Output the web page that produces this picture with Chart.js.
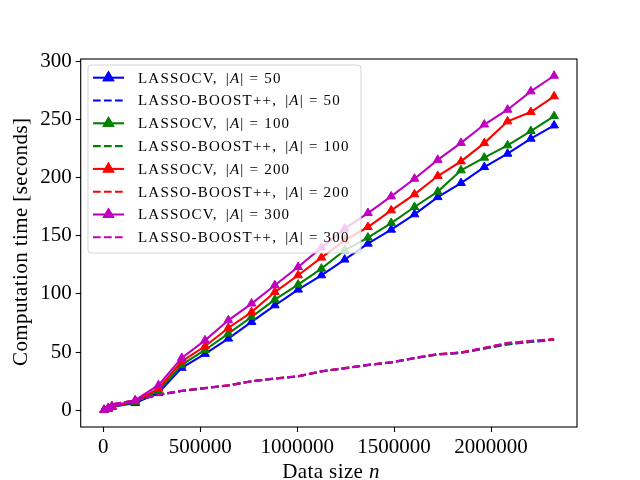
<!DOCTYPE html>
<html>
<head>
<meta charset="utf-8">
<title>Computation time</title>
<script src="https://cdn.jsdelivr.net/npm/chart.js@4.4.1/dist/chart.umd.min.js"></script>
<style>
	html, body { margin: 0; padding: 0; background: #fff; }
	#wrap { width: 640px; height: 480px; }
</style>
</head>
<body>
<div id="wrap"><canvas id="chart-canvas" width="640" height="480"></canvas></div>
<script>
'use strict';

var DATA_SIZES = [5000, 25000, 45000, 165000, 285000, 405000, 525000, 645000, 765000, 885000, 1005000,
	1125000, 1245000, 1365000, 1485000, 1605000, 1725000, 1845000, 1965000, 2085000, 2205000, 2325000];

var CV_50  = [0.2, 1.2, 2.8, 6.2, 14.9, 36.5, 48.5, 61.6, 75.9, 90.2, 103.7, 116.0, 129.5, 143.2, 155.2, 168.4, 183.2, 195.3, 209.0, 220.5, 233.4, 244.8];
var CV_100 = [0.3, 1.4, 3.0, 7.0, 16.6, 39.0, 51.8, 65.9, 80.2, 95.1, 108.0, 121.7, 137.5, 148.4, 160.9, 174.7, 187.9, 206.2, 217.1, 227.7, 240.0, 252.8];
var CV_200 = [0.3, 1.5, 3.2, 7.8, 18.6, 42.0, 55.0, 70.7, 84.4, 101.6, 116.0, 131.2, 146.0, 157.5, 171.8, 185.6, 201.3, 213.9, 229.6, 248.3, 256.3, 269.8];
var CV_300 = [0.4, 1.7, 3.5, 8.6, 21.5, 45.0, 60.1, 77.3, 91.7, 107.4, 123.1, 139.8, 156.1, 169.5, 183.8, 199.0, 215.2, 229.8, 245.6, 258.3, 274.1, 287.5];

var BOOST_50  = [0.4, 2.8, 4.8, 8.3, 13.2, 16.5, 18.9, 21.2, 24.8, 27.1, 29.0, 33.3, 36.0, 38.8, 41.0, 44.7, 47.9, 49.3, 52.9, 56.6, 58.6, 60.6];
var BOOST_100 = [0.5, 2.9, 4.9, 8.4, 13.3, 16.6, 19.0, 21.3, 24.9, 27.2, 29.1, 33.4, 36.1, 38.9, 41.1, 44.8, 48.0, 49.5, 53.2, 57.0, 58.9, 60.8];
var BOOST_200 = [0.5, 3.0, 5.0, 8.5, 13.4, 16.7, 19.1, 21.4, 25.0, 27.3, 29.2, 33.5, 36.2, 39.0, 41.2, 44.9, 48.2, 49.7, 53.6, 57.9, 59.6, 61.1];
var BOOST_300 = [0.5, 3.0, 5.0, 8.6, 13.5, 16.8, 19.2, 21.5, 25.0, 27.4, 29.3, 33.6, 36.3, 39.0, 41.3, 45.0, 48.3, 49.6, 53.5, 57.6, 59.4, 61.0];

var SET_SIZES = [50, 100, 200, 300];
var COLORS    = ['#0000ff', '#008000', '#ff0000', '#bf00bf'];

var X_TICKS = [0, 500000, 1000000, 1500000, 2000000];
var Y_TICKS = [0, 50, 100, 150, 200, 250, 300];

var FONT = "'Liberation Serif', 'DejaVu Serif', serif";
var LINE_W = 2.08;
var DASH = [7.7, 3.3];

function points(values) {
	return values.map(function(v, i) {
		return { x: DATA_SIZES[i], y: v };
	});
}

var cvSeries    = [CV_50, CV_100, CV_200, CV_300];
var boostSeries = [BOOST_50, BOOST_100, BOOST_200, BOOST_300];

var datasets = [];
SET_SIZES.forEach(function(size, i) {
	datasets.push({
		label: 'LASSOCV, |A| = ' + size,
		kind: 'cv',
		setSize: size,
		data: points(cvSeries[i]),
		borderColor: COLORS[i],
		backgroundColor: COLORS[i],
		borderWidth: LINE_W,
		pointStyle: 'triangle',
		pointRadius: 5,
		pointBorderWidth: 1,
		pointBackgroundColor: COLORS[i],
		pointBorderColor: COLORS[i],
		tension: 0
	});
	datasets.push({
		label: 'LASSO-BOOST++, |A| = ' + size,
		kind: 'boost',
		setSize: size,
		data: points(boostSeries[i]),
		borderColor: COLORS[i],
		backgroundColor: COLORS[i],
		borderWidth: LINE_W,
		borderDash: DASH,
		pointRadius: 0,
		tension: 0
	});
});
// matplotlib draws later series on top
datasets.forEach(function(ds, i) { ds.order = datasets.length - i; });

// draws a list of [text, italic, gapAfter] runs starting at x
function drawRuns(ctx, runs, x, y, size, spacing) {
	ctx.letterSpacing = (spacing || 0) + 'px';
	runs.forEach(function(run) {
		ctx.font = (run[1] ? 'italic ' : '') + size + 'px ' + FONT;
		ctx.fillText(run[0], x, y);
		x += ctx.measureText(run[0]).width + (run[2] || 0);
	});
	ctx.letterSpacing = '0px';
	return x;
}

function runsWidth(ctx, runs, size) {
	var w = 0;
	runs.forEach(function(run) {
		ctx.font = (run[1] ? 'italic ' : '') + size + 'px ' + FONT;
		w += ctx.measureText(run[0]).width + (run[2] || 0);
	});
	return w;
}

var framePlugin = {
	id: 'frame',
	afterDatasetsDraw: function(chart) {
		var a = chart.chartArea, ctx = chart.ctx;
		ctx.save();
		ctx.strokeStyle = '#000';
		ctx.lineWidth = 1.1;
		ctx.strokeRect(a.left, a.top, a.right - a.left, a.bottom - a.top);
		ctx.restore();
	}
};

var legendPlugin = {
	id: 'innerLegend',
	afterDatasetsDraw: function(chart) {
		var ctx = chart.ctx;
		var box = { x: 88, y: 65, w: 273, h: 188 };
		var rowTop = 77.7, rowStep = 22.8, size = 15;

		ctx.save();
		ctx.beginPath();
		ctx.roundRect(box.x, box.y, box.w, box.h, 3);
		ctx.fillStyle = 'rgba(255,255,255,0.8)';
		ctx.fill();
		ctx.strokeStyle = 'rgba(204,204,204,0.8)';
		ctx.lineWidth = 1;
		ctx.stroke();

		chart.data.datasets.forEach(function(ds, i) {
			var y = rowTop + i * rowStep;
			ctx.strokeStyle = ds.borderColor;
			ctx.lineWidth = LINE_W;
			ctx.setLineDash(ds.kind === 'boost' ? DASH : []);
			ctx.beginPath();
			ctx.moveTo(93, y);
			ctx.lineTo(124, y);
			ctx.stroke();
			ctx.setLineDash([]);
			if (ds.kind === 'cv') {
				Chart.helpers.drawPoint(ctx, {
					pointStyle: 'triangle', radius: 5, borderWidth: 1
				}, 108.5, y);
				ctx.fillStyle = ds.borderColor;
				ctx.fill();
				ctx.stroke();
			}
			ctx.fillStyle = '#000';
			ctx.textBaseline = 'middle';
			ctx.textAlign = 'left';
			var name = ds.kind === 'cv' ? 'LASSOCV,' : 'LASSO-BOOST++,';
			drawRuns(ctx, [
				[name, false, 8],
				['|', false, 0],
				['A', true, 0],
				['|', false, 5],
				['=', false, 5],
				[String(ds.setSize), false, 0]
			], 138, y + 1, size, 1.2);
		});
		ctx.restore();
	}
};

var titlesPlugin = {
	id: 'axisTitles',
	afterDraw: function(chart) {
		var ctx = chart.ctx, a = chart.chartArea, size = 21;
		ctx.save();
		ctx.fillStyle = '#000';
		ctx.textBaseline = 'middle';
		ctx.textAlign = 'left';

		var xRuns = [['Data size ', false], ['n', true]];
		var w = runsWidth(ctx, xRuns, size);
		drawRuns(ctx, xRuns, (a.left + a.right) / 2 - w / 2, 472, size, 0.4);

		ctx.translate(21, (a.top + a.bottom) / 2);
		ctx.rotate(-Math.PI / 2);
		var yRuns = [['Computation time [seconds]', false]];
		w = runsWidth(ctx, yRuns, size);
		drawRuns(ctx, yRuns, -w / 2 - 4, 0, size, 0.4);
		ctx.restore();
	}
};

var tickFont = { family: FONT, size: 21 };

var myChart = new Chart(document.getElementById('chart-canvas'), {
	type: 'line',
	data: { datasets: datasets },
	options: {
		responsive: false,
		devicePixelRatio: 1,
		animation: false,
		events: [],
		layout: { padding: { left: 0, top: 59, right: 63, bottom: 0 } },
		plugins: {
			legend: { display: false },
			tooltip: { enabled: false }
		},
		scales: {
			x: {
				type: 'linear',
				min: -116000,
				max: 2443000,
				afterFit: function(scale) { scale.height = 53; },
				afterBuildTicks: function(scale) {
					scale.ticks = X_TICKS.map(function(v) { return { value: v }; });
				},
				border: { display: false },
				grid: { drawOnChartArea: false, drawTicks: true, tickLength: 5, tickColor: '#000', tickWidth: 1.1 },
				ticks: {
					color: '#000',
					font: tickFont,
					padding: 3,
					maxRotation: 0,
					callback: function(v) { return String(v); }
				}
			},
			y: {
				type: 'linear',
				min: -14.4,
				max: 301.9,
				afterFit: function(scale) { scale.width = 80.7; },
				afterBuildTicks: function(scale) {
					scale.ticks = Y_TICKS.map(function(v) { return { value: v }; });
				},
				border: { display: false },
				grid: { drawOnChartArea: false, drawTicks: true, tickLength: 5, tickColor: '#000', tickWidth: 1.1 },
				ticks: {
					color: '#000',
					font: tickFont,
					padding: 4,
					callback: function(v) { return String(v); }
				}
			}
		}
	},
	plugins: [framePlugin, legendPlugin, titlesPlugin]
});
</script>
</body>
</html>
